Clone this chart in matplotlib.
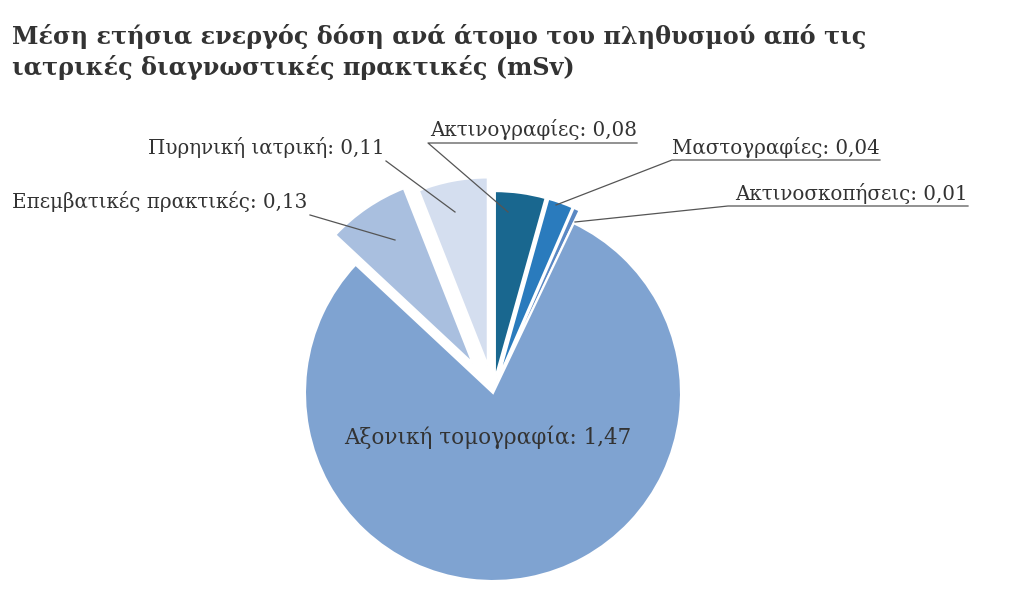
import numpy as np
from matplotlib import pyplot as plt

labels = ['Ακτινογραφίες', 'Μαστογραφίες', 'Ακτινοσκοπήσεις',
          'Αξονική τομογραφία', 'Επεμβατικές πρακτικές', 'Πυρηνική ιατρική']
values = [0.08, 0.04, 0.01, 1.47, 0.13, 0.11]
colors = ['#19678f', '#2a7bbd', '#5a88c4', '#7fa3d1', '#a9bfdf', '#d4deef']
explode = [14, 14, 14, 0, 36, 28]

H = 606
fig = plt.figure(figsize=(10.24, 6.06), dpi=100)
ax = fig.add_axes([0, 0, 1, 1])
cx, cy, r = 493, H - 393, 188
ax.pie(values, colors=colors, startangle=90, counterclock=False,
       center=(cx, cy), radius=r, explode=explode,
       wedgeprops=dict(edgecolor='white', linewidth=1.5))
ax.set_xlim(0, 1024)
ax.set_ylim(0, H)
ax.set_aspect('equal')
ax.axis('off')

def lbl(v):
    return ('%.2f' % v).replace('.', ',')

font = dict(family='DejaVu Serif', fontsize=14.3, color='#333333')
# (text x, text y, ha, line start, line end)
layout = {
    0: (637, 130, 'right', [(637, 143), (428, 143)], (508, 212)),
    1: (880, 147, 'right', [(880, 160), (672, 160)], (556, 205)),
    2: (968, 193, 'right', [(968, 206), (728, 206)], (575, 222)),
    4: (12, 202, 'left', [(312, 215), (310, 215)], (395, 240)),
    5: (148, 148, 'left', [(388, 161), (386, 161)], (455, 212)),
}
for i, (tx, ty, ha, seg, end) in layout.items():
    ax.text(tx, H - ty, '%s: %s' % (labels[i], lbl(values[i])), ha=ha, va='center', **font)
    xs = [p[0] for p in seg] + [end[0]]
    ys = [H - p[1] for p in seg] + [H - end[1]]
    ax.plot(xs[1:] if ha == 'left' else xs, ys[1:] if ha == 'left' else ys,
            color='#555555', lw=0.9)
ax.text(488, H - 437, '%s: %s' % (labels[3], lbl(values[3])), ha='center', va='center',
        family='DejaVu Serif', fontsize=15.5, color='#333333')

fig.text(0.012, 0.96, 'Μέση ετήσια ενεργός δόση ανά άτομο του πληθυσμού από τις\n'
         'ιατρικές διαγνωστικές πρακτικές (mSv)', ha='left', va='top',
         family='DejaVu Serif', fontweight='bold', fontsize=17.2, color='#333333',
         linespacing=1.3)

fig.savefig('out.png', dpi=100)
